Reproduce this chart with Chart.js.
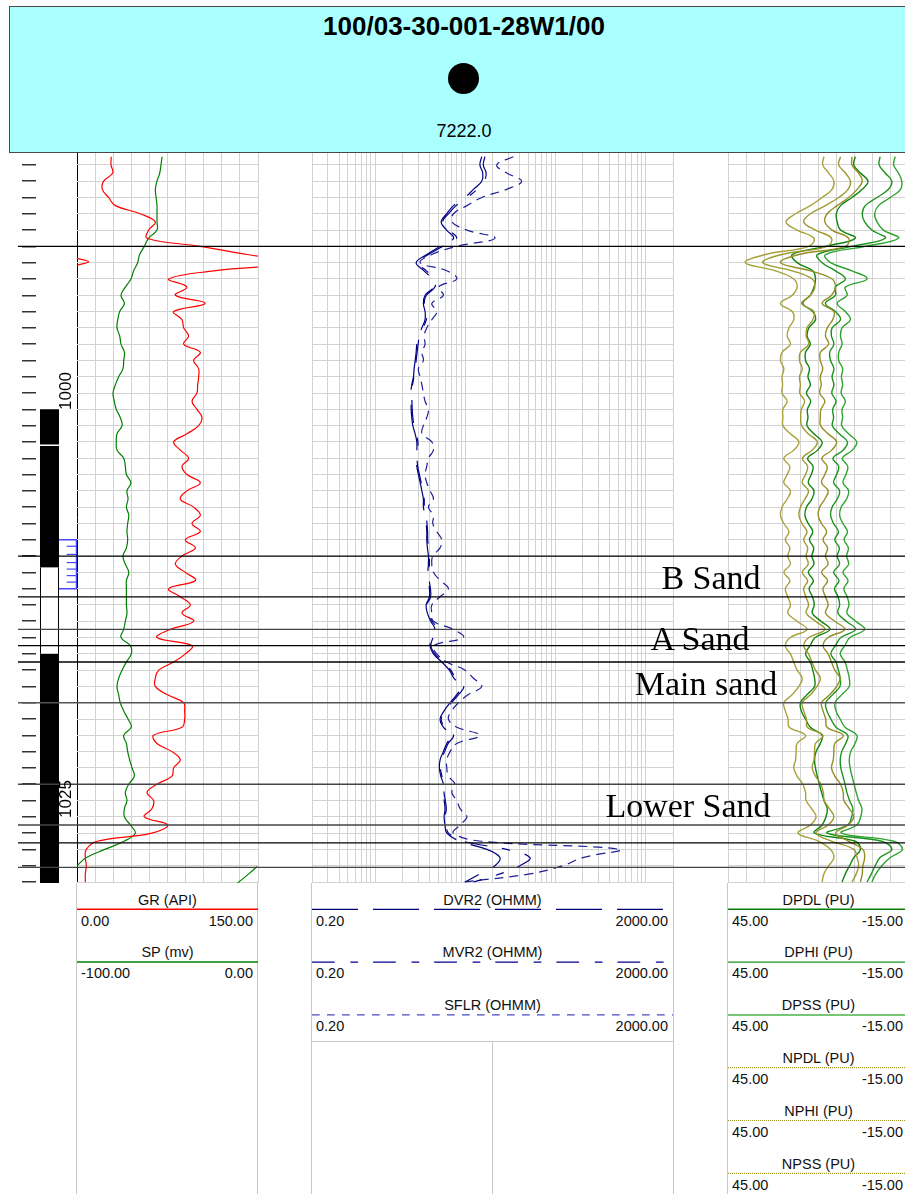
<!DOCTYPE html>
<html>
<head>
<meta charset="utf-8">
<title>100/03-30-001-28W1/00</title>
<script src="https://cdn.jsdelivr.net/npm/chart.js@4.4.1/dist/chart.umd.min.js"></script>
<style>
  html, body { margin: 0; padding: 0; background: #fff; overflow: hidden; }
  #page { position: relative; width: 905px; height: 1194px; overflow: hidden; font-family: "Liberation Sans", Arial, sans-serif; color: #111; }
  .abs { position: absolute; }
  .abs canvas { display: block; }
  #header { left: 9px; top: 6px; width: 908px; height: 145px; background: #aaffff; border: 1px solid #4a4a4a; z-index: 5; }
  #title { left: 0; right: 0; top: 4px; text-align: center; font-weight: bold; font-size: 26px; line-height: 30px; color: #000; }
  #dot { left: 438px; top: 56px; width: 31px; height: 31px; border-radius: 50%; background: #000; }
  #kb { left: 0; right: 0; top: 114px; text-align: center; font-size: 18px; line-height: 20px; color: #000; }
  .lg { font-size: 14.5px; line-height: 17px; white-space: nowrap; color: #111; }
  .zone { font-family: "Liberation Serif", serif; font-size: 34px; line-height: 36px; white-space: nowrap; transform: translate(-50%, -50%); z-index: 4; color: #000; }
  .dlab { font-size: 17px; line-height: 17px; white-space: nowrap; transform: translate(-50%, -50%) rotate(-90deg); z-index: 4; color: #000; }
</style>
</head>
<body>
<div id="page">
  <div id="header" class="abs">
    <div id="title" class="abs">100/03-30-001-28W1/00</div>
    <div id="dot" class="abs"></div>
    <div id="kb" class="abs">7222.0</div>
  </div>
  <div class="abs" style="left:22px;top:152px;width:55px;height:731px;z-index:1"><canvas id="cDepth"></canvas></div>
  <div class="abs" style="left:77px;top:152px;width:182px;height:731px;z-index:1"><canvas id="cGR"></canvas></div>
  <div class="abs" style="left:312px;top:152px;width:362px;height:731px;z-index:1"><canvas id="cRes"></canvas></div>
  <div class="abs" style="left:728px;top:152px;width:182px;height:731px;z-index:1"><canvas id="cPor"></canvas></div>
  <div class="abs" style="left:18px;top:152px;width:887px;height:731px;z-index:2"><canvas id="cTops"></canvas></div>
</div>
<script>
const depthTop = 985.21;
const depthBase = 1030.06;

// sample depths (m), one row per 5 m
const depth = [
  985.5, 986, 986.5, 987, 987.5, 988, 988.5, 989, 989.5, 990,
  990.5, 991, 991.5, 992, 992.5, 993, 993.5, 994, 994.5, 995,
  995.5, 996, 996.5, 997, 997.5, 998, 998.5, 999, 999.5, 1000,
  1000.5, 1001, 1001.5, 1002, 1002.5, 1003, 1003.5, 1004, 1004.5, 1005,
  1005.5, 1006, 1006.5, 1007, 1007.5, 1008, 1008.5, 1009, 1009.5, 1010,
  1010.5, 1011, 1011.5, 1012, 1012.5, 1013, 1013.5, 1014, 1014.5, 1015,
  1015.5, 1016, 1016.5, 1017, 1017.5, 1018, 1018.5, 1019, 1019.5, 1020,
  1020.5, 1021, 1021.5, 1022, 1022.5, 1023, 1023.5, 1024, 1024.5, 1025,
  1025.5, 1026, 1026.5, 1027, 1027.5, 1028, 1028.5, 1029, 1029.5, 1030
];

const grApi = [
  28.4, 28.2, 29.6, 22.1, 21.0, 26.2, 31.8, 52.5, 64.9, 59.4,
  58.0, 102.2, 140.9, 180, 113.5, 76.0, 91.1, 81.5, 106.3, 80.1,
  87.0, 88.4, 92.5, 88.4, 102.2, 96.7, 100.8, 100.8, 100.0, 99.4,
  95.3, 99.4, 103.6, 100.8, 91.1, 80.1, 85.6, 92.5, 87.0, 91.1,
  102.2, 91.1, 85.6, 96.7, 102.2, 95.3, 102.2, 89.8, 98.1, 87.0,
  81.5, 89.8, 98.1, 76.0, 85.6, 93.9, 87.0, 96.7, 77.3, 66.3,
  95.3, 89.8, 80.1, 67.7, 64.9, 64.9, 74.6, 88.4, 89.2, 89.2,
  87.0, 63.5, 66.3, 78.7, 85.6, 80.1, 78.7, 66.3, 58.0, 63.5,
  62.1, 55.8, 75.0, 62.0, 16.6, 7.7, 6.9, 7.7, 6.9, 6.9
];
// GR above 150 wraps back in from the left
const grWrapDepth = [991.74, 991.95, 992.15];
const grWrap = [0, 9.6, 0];

const spMv = [
  -53.0, -53.6, -54.3, -55.8, -56.7, -56.3, -55.8, -55.8, -55.8, -55.8,
  -60.4, -62.8, -65.4, -66.5, -68.7, -70.2, -73.3, -75.7, -73.8, -76.4,
  -77.5, -77.9, -76.4, -75.7, -73.8, -74.2, -74.6, -77.0, -78.8, -80.1,
  -79.4, -78.3, -76.1, -75.1, -77.9, -78.3, -77.9, -74.2, -73.3, -72.7,
  -70.2, -72.4, -71.8, -72.7, -71.4, -72.0, -72.4, -72.0, -72.7, -74.6,
  -73.3, -71.4, -72.7, -72.7, -72.7, -72.7, -72.4, -73.3, -74.2, -75.7,
  -70.5, -70.0, -72.7, -75.1, -77.0, -77.9, -77.0, -76.1, -74.2, -71.8,
  -70.0, -74.2, -72.7, -72.0, -70.9, -69.6, -68.3, -71.4, -73.3, -72.4,
  -73.8, -73.8, -70.5, -67.8, -74.0, -84.7, -94.8, -100, -105, -111
];
// SP below -100 wraps back in from the right
const spWrapDepth = [1029.05, 1029.5, 1030.06];
const spWrap = [-0.5, -5.1, -11.2];

const dvr2 = [
  15.2, 14.5, 15.6, 15.2, 12.3, 9.9, 7.4, 6.2, 5.4, 6.2,
  7.4, 5.25, 3.74, 2.85, 3.49, 4.25, 4.43, 3.58, 3.43, 3.58,
  3.58, 3.30, 3.02, 2.90, 2.85, 2.78, 2.71, 2.66, 2.55, 2.49,
  2.51, 2.51, 2.55, 2.62, 2.78, 2.90, 2.90, 2.85, 2.90, 3.02,
  3.16, 3.30, 3.43, 3.43, 3.58, 3.68, 3.74, 3.74, 3.80, 3.90,
  3.90, 3.84, 3.90, 4.00, 4.00, 3.68, 3.80, 4.14, 4.62, 4.25,
  4.07, 4.43, 5.48, 6.65, 7.50, 9.13, 8.04, 6.78, 5.82, 5.25,
  5.71, 7.08, 6.23, 5.71, 5.25, 5.16, 5.35, 5.71, 5.63, 5.82,
  5.96, 5.82, 5.96, 6.23, 8.74, 17.3, 24.2, 21.3, 14.5, 9.93
];
const mvr2 = [
  16.5, 15.8, 17.0, 16.2, 13.5, 10.5, 7.9, 6.5, 5.6, 6.6,
  8.0, 5.6, 3.9, 2.95, 3.7, 4.5, 4.6, 3.7, 3.5, 3.75,
  3.7, 3.4, 3.1, 3.0, 2.92, 2.85, 2.78, 2.7, 2.6, 2.55,
  2.56, 2.58, 2.62, 2.7, 2.85, 2.98, 2.96, 2.92, 2.97, 3.1,
  3.24, 3.38, 3.5, 3.52, 3.66, 3.76, 3.82, 3.83, 3.9, 3.98,
  4.0, 3.93, 3.98, 4.1, 4.12, 3.76, 3.9, 4.3, 4.9, 4.4,
  4.15, 4.6, 5.7, 6.9, 7.8, 9.6, 8.4, 7.0, 6.0, 5.4,
  5.9, 7.4, 6.45, 5.9, 5.4, 5.3, 5.5, 5.9, 5.8, 6.0,
  6.15, 6.0, 6.15, 6.5, 9.5, 28.7, 52.0, 40.3, 24.2, 12.3
];
const sflr = [
  34.0, 22.3, 28.7, 42.1, 28.7, 15.2, 10.4, 7.4, 7.1, 10.4,
  21.3, 8.0, 4.25, 3.16, 6.23, 8.04, 5.03, 5.71, 4.25, 4.83,
  4.25, 3.74, 3.49, 3.58, 3.30, 3.43, 3.02, 3.16, 3.30, 3.43,
  3.58, 3.90, 3.74, 3.43, 3.30, 4.25, 4.43, 3.90, 3.74, 3.58,
  3.74, 4.07, 4.43, 3.90, 4.43, 4.36, 4.83, 5.48, 5.25, 4.36,
  4.25, 4.43, 5.25, 6.49, 5.25, 4.25, 4.25, 4.43, 7.37, 9.51,
  4.43, 4.83, 6.23, 9.93, 12.3, 15.2, 10.8, 8.37, 7.08, 6.49,
  8.04, 14.5, 8.04, 6.78, 6.23, 6.23, 6.49, 7.7, 7.08, 8.04,
  8.74, 10.4, 8.74, 7.37, 15.0, 515, 200, 120, 52.0, 9.5
];

const dpdl = [
  2.8, 3.3, 1.1, -1.4, 0.5, 3.9, 7.7, 9.1, 8.8, 7.7,
  2.8, 12.7, 23.7, 22.1, 16.9, 16.0, 16.5, 17.7, 20.2, 16.9,
  16.0, 18.2, 18.8, 17.7, 19.3, 19.3, 18.0, 18.5, 17.7, 19.0,
  17.6, 18.7, 18.5, 18.8, 16.5, 13.8, 15.3, 18.6, 16.8, 17.4,
  18.4, 16.5, 17.2, 19.0, 19.5, 18.4, 16.9, 18.0, 16.6, 17.2,
  16.5, 18.4, 16.7, 18.1, 17.0, 16.4, 17.1, 14.2, 11.2, 16.1,
  17.8, 19.3, 17.7, 16.9, 16.3, 16.3, 18.8, 21.0, 20.7, 19.3,
  17.7, 13.8, 14.4, 15.8, 16.3, 16.0, 15.4, 14.7, 14.0, 13.2,
  12.1, 12.5, 13.8, 16.3, 2.8, 1.1, 3.3, 4.7, 6.1, 7.2
];
const dphi = [
  -5.4, -5.1, -7.1, -9.3, -8.2, -4.4, -0.5, 0.5, -0.3, -2.7,
  -7.1, 3.9, 15.4, 13.8, 9.4, 6.1, 9.4, 9.4, 12.7, 9.4,
  7.7, 10.5, 10.7, 9.9, 11.3, 11.0, 9.9, 10.5, 9.9, 10.6,
  9.2, 10.3, 10.0, 10.4, 8.1, 5.4, 6.8, 10.2, 8.3, 9.0,
  10.0, 8.0, 8.8, 10.5, 11.0, 10.0, 8.4, 9.6, 8.1, 8.8,
  8.0, 10.0, 8.2, 9.7, 8.5, 8.0, 8.6, 5.8, 2.7, 7.6,
  9.4, 10.9, 9.2, 8.4, 7.8, 7.9, 10.3, 12.6, 12.2, 10.9,
  9.2, 5.3, 6.0, 7.3, 7.8, 7.6, 6.9, 6.2, 5.6, 4.7,
  3.6, 4.0, 5.3, 12.1, -6.0, -9.3, -5.4, -3.8, -2.5, -1.1
];
const dpss = [
  -10.4, -9.9, -11.5, -12.6, -12.2, -8.8, -4.9, -3.6, -4.4, -6.5,
  -11.5, -0.5, 12.7, 11.0, 3.9, -1.1, 6.1, 5.5, 8.8, 6.1,
  4.4, 7.2, 7.7, 7.2, 8.3, 8.3, 7.0, 7.4, 7.0, 7.5,
  6.1, 7.2, 7.0, 7.3, 5.0, 2.3, 3.8, 7.1, 5.3, 5.9,
  6.9, 5.0, 5.7, 7.5, 8.0, 6.9, 5.4, 6.5, 5.1, 5.7,
  5.0, 6.9, 5.2, 6.6, 5.5, 4.9, 5.6, 2.7, -0.3, 4.6,
  6.3, 7.8, 6.2, 5.4, 4.8, 4.8, 7.3, 9.5, 9.2, 7.8,
  6.2, 2.3, 2.9, 4.3, 4.8, 4.5, 3.9, 3.2, 2.5, 1.7,
  0.6, 1.0, 2.3, 7.4, -10.0, -12.8, -8.8, -6.0, -4.0, -2.7
];
const npdl = [
  3.9, 3.9, 1.7, 0.5, 2.2, 5.0, 8.8, 12.1, 12.9, 10.5,
  5.0, 6.1, 21.5, 27.6, 17.7, 10.5, 9.4, 10.7, 13.8, 9.9,
  10.3, 12.1, 12.7, 11.6, 14.4, 14.4, 13.6, 14.4, 14.1, 14.6,
  12.9, 14.2, 14.4, 14.3, 11.8, 9.0, 10.6, 13.9, 12.1, 12.9,
  14.0, 11.8, 12.9, 14.6, 15.1, 14.0, 12.3, 13.5, 12.0, 12.7,
  11.8, 14.0, 12.0, 13.5, 12.7, 11.8, 12.7, 9.6, 6.3, 11.8,
  13.5, 11.8, 10.7, 9.6, 7.9, 9.0, 11.2, 14.0, 13.5, 12.6,
  12.2, 6.8, 9.6, 9.9, 10.1, 10.7, 9.6, 7.7, 6.8, 6.6,
  4.8, 3.3, 5.2, 9.3, 5.0, 0.3, -0.3, 0.3, 0.5, 1.1
];
const nphi = [
  7.7, 8.3, 6.1, 4.4, 5.2, 8.3, 12.7, 17.7, 19.9, 16.0,
  10.7, 12.1, 27.1, 33.5, 23.7, 17.1, 16.2, 17.7, 20.6, 16.5,
  16.9, 18.8, 19.1, 18.2, 21.0, 21.3, 20.4, 21.3, 21.0, 21.2,
  19.6, 20.7, 20.9, 20.6, 18.4, 15.4, 17.1, 20.3, 18.6, 19.3,
  20.4, 18.3, 19.5, 21.0, 21.5, 20.5, 18.8, 19.9, 18.6, 19.1,
  18.4, 20.4, 18.6, 19.9, 19.2, 18.3, 19.1, 16.0, 12.9, 18.2,
  19.9, 18.3, 17.2, 16.0, 14.4, 15.5, 17.6, 20.4, 19.9, 19.0,
  18.7, 13.5, 16.0, 16.3, 16.5, 17.1, 16.0, 14.2, 13.4, 13.1,
  11.4, 9.9, 11.8, 15.8, 10.5, 3.3, 2.2, 1.7, 2.5, 3.9
];
const npss = [
  13.2, 13.6, 11.6, 9.9, 10.5, 13.8, 17.7, 22.6, 25.8, 22.1,
  16.5, 18.2, 32.6, 39.3, 29.3, 23.2, 22.1, 23.7, 27.6, 23.7,
  23.2, 24.8, 25.4, 24.3, 27.1, 27.6, 26.5, 27.1, 26.9, 27.1,
  25.4, 26.8, 26.8, 26.8, 24.3, 21.5, 23.2, 26.5, 24.5, 25.4,
  26.5, 24.3, 25.4, 27.1, 27.6, 26.5, 24.8, 26.0, 24.5, 25.2,
  24.3, 26.5, 24.5, 26.0, 25.2, 24.3, 25.2, 22.1, 18.8, 24.3,
  26.0, 24.3, 23.2, 22.1, 20.4, 21.5, 23.7, 26.5, 26.0, 25.1,
  24.7, 19.3, 22.1, 22.4, 22.6, 23.2, 22.1, 20.2, 19.3, 19.1,
  17.3, 15.8, 17.7, 21.8, 14.9, 11.0, 9.9, 11.6, 13.2, 13.8
];

// formation tops and picked zones
const tops = [991.0, 1010.0, 1012.5, 1014.5, 1015.5, 1016.5, 1019.0, 1024.0, 1026.5, 1027.6, 1029.1];
const topColours = ['#000', '#000', '#000', '#444', '#000', '#000', '#555', '#444', '#444', '#000', '#444'];
const zoneNames = ['B Sand', 'A Sand', 'Main sand', 'Lower Sand'];
const zoneTop = [1010.0, 1014.5, 1016.5, 1024.0];
const zoneBase = [1012.5, 1015.5, 1019.0, 1026.5];
const zoneX = [711, 700, 706, 688];

// lithology column and perforations
const lithTop = [1001.0, 1003.25, 1010.7, 1016.0];
const lithBase = [1003.15, 1010.7, 1016.0, 1030.1];
const lithType = ['shale', 'shale', 'sand', 'shale'];
const perfTop = 1009.0;
const perfBase = 1012.0;
const perfShots = [1009.4, 1009.9, 1010.4, 1010.8, 1011.2, 1011.6];
const depthLabels = [1000, 1025];

const grTicks = [0, 15, 30, 45, 60, 75, 90, 105, 120, 135, 150];
const resTicks = [0.2, 0.3, 0.4, 0.5, 0.6, 0.7, 0.8, 0.9, 1, 2, 3, 4, 5, 6, 7, 8, 9,
  10, 20, 30, 40, 50, 60, 70, 80, 90, 100, 200, 300, 400, 500, 600, 700, 800, 900, 1000, 2000];
const porTicks = [-15, -9, -3, 3, 9, 15, 21, 27, 33, 39, 45];

const page = document.getElementById('page');
const gridGrey = '#d2d2d2';

function opts(scales, padRight) {
  return {
    responsive: true,
    maintainAspectRatio: false,
    animation: false,
    events: [],
    layout: { padding: { right: padRight || 0 }, autoPadding: false },
    plugins: { legend: { display: false }, tooltip: { enabled: false } },
    elements: { point: { radius: 0 }, line: { tension: 0.4, borderWidth: 1.2 } },
    scales: scales
  };
}

function integerDepthTicks(s) {
  s.ticks = [];
  for (let d = Math.ceil(s.min); d <= s.max; d++) s.ticks.push({ value: d });
}

function depthAxis() {
  return {
    type: 'linear', reverse: true, min: depthTop, max: depthBase,
    ticks: { display: false, autoSkip: false },
    grid: { drawTicks: false, color: gridGrey },
    border: { display: false },
    afterBuildTicks: integerDepthTicks
  };
}

function trackAxis(type, min, max, tickList, extra) {
  return Object.assign({
    type: type, min: min, max: max,
    ticks: { display: false, autoSkip: false },
    grid: { drawTicks: false, color: gridGrey },
    border: { display: false },
    afterBuildTicks: s => { s.ticks = tickList.map(v => ({ value: v })); }
  }, extra || {});
}

function curve(vals, colour, axis, extra) {
  return Object.assign({
    data: depth.map((d, i) => ({ x: vals[i], y: d })),
    borderColor: colour, xAxisID: axis, showLine: true, pointRadius: 0
  }, extra || {});
}

// depth track: tick marks, lithology column, perforations
// (Chart.js paints dataset 0 last, so the white sand fill goes first)
const lithX = 0.329;
const perfX0 = 0.561, perfX1 = 0.988, shotX = 0.87;
const sandSets = [];
const shaleSets = [];
lithTop.forEach((t, i) => {
  const seg = [{ x: lithX, y: t }, { x: lithX, y: lithBase[i] }];
  shaleSets.push({
    data: seg, showLine: true, pointRadius: 0, tension: 0,
    borderColor: '#000', borderWidth: 19, borderCapStyle: 'butt'
  });
  if (lithType[i] === 'sand') {
    sandSets.push({
      data: seg, showLine: true, pointRadius: 0, tension: 0,
      borderColor: '#fff', borderWidth: 17, borderCapStyle: 'butt'
    });
  }
});

const depthChart = new Chart(document.getElementById('cDepth'), {
  type: 'scatter',
  data: {
    datasets: [{
      data: perfShots.map(d => ({ x: shotX, y: d })),
      showLine: false, pointStyle: 'line', pointRadius: 5,
      pointBorderColor: '#4646ff', pointBorderWidth: 1.2
    }, {
      data: [{ x: perfX0, y: perfTop }, { x: perfX1, y: perfTop }, { x: perfX1, y: perfBase }, { x: perfX0, y: perfBase }],
      showLine: true, pointRadius: 0, tension: 0,
      borderColor: '#4646ff', borderWidth: 1.5
    }].concat(sandSets, shaleSets)
  },
  options: opts({
    x: { type: 'linear', min: 0, max: 1, display: false },
    y: {
      type: 'linear', reverse: true, min: depthTop, max: depthBase, position: 'left',
      ticks: { display: false, autoSkip: false },
      grid: { drawOnChartArea: false, drawTicks: true, tickLength: 14, color: '#333', lineWidth: 1.5 },
      border: { display: false },
      afterBuildTicks: integerDepthTicks
    }
  })
});

// GR / SP track
new Chart(document.getElementById('cGR'), {
  type: 'scatter',
  data: {
    datasets: [
      curve(grApi, '#ff0000', 'x'),
      { data: grWrapDepth.map((d, i) => ({ x: grWrap[i], y: d })), borderColor: '#ff0000', xAxisID: 'x', showLine: true, pointRadius: 0 },
      curve(spMv, '#008000', 'xsp'),
      { data: spWrapDepth.map((d, i) => ({ x: spWrap[i], y: d })), borderColor: '#008000', xAxisID: 'xsp', showLine: true, pointRadius: 0 }
    ]
  },
  options: opts({
    x: trackAxis('linear', 0, 150, grTicks, {
      grid: { drawTicks: false, color: c => c.index === 0 ? '#000' : gridGrey }
    }),
    xsp: { type: 'linear', min: -100, max: 0, display: false },
    y: depthAxis()
  }, 1)
});

// resistivity track
new Chart(document.getElementById('cRes'), {
  type: 'scatter',
  data: {
    datasets: [
      curve(dvr2, '#00007f', 'x', { borderDash: [46, 15] }),
      curve(mvr2, '#000090', 'x', { borderDash: [23, 15, 8, 15] }),
      curve(sflr, '#1f1f99', 'x', { borderDash: [9, 6] })
    ]
  },
  options: opts({
    x: trackAxis('logarithmic', 0.2, 2000, resTicks),
    y: depthAxis()
  }, 1)
});

// porosity track
new Chart(document.getElementById('cPor'), {
  type: 'scatter',
  data: {
    datasets: [
      curve(npss, '#a8a23c', 'x', { borderWidth: 1.4 }),
      curve(nphi, '#9e9a30', 'x', { borderWidth: 1.4 }),
      curve(npdl, '#948f24', 'x', { borderWidth: 1.4 }),
      curve(dpdl, '#0f850f', 'x', { borderWidth: 1.4 }),
      curve(dphi, '#1c931c', 'x', { borderWidth: 1.4 }),
      curve(dpss, '#2fa32f', 'x', { borderWidth: 1.4 })
    ]
  },
  options: opts({
    x: trackAxis('linear', -15, 45, porTicks, { reverse: true }),
    y: depthAxis()
  }, 1)
});

// formation tops across all tracks
const topsChart = new Chart(document.getElementById('cTops'), {
  type: 'scatter',
  data: {
    datasets: tops.map((t, i) => ({
      data: [{ x: 0, y: t }, { x: 1, y: t }],
      showLine: true, pointRadius: 0, tension: 0,
      borderColor: topColours[i], borderWidth: 1.3
    }))
  },
  options: opts({
    x: { type: 'linear', min: 0, max: 1, display: false },
    y: { type: 'linear', reverse: true, min: depthTop, max: depthBase, display: false }
  })
});

function addDiv(cls, text, style) {
  const el = document.createElement('div');
  el.className = 'abs ' + cls;
  el.textContent = text;
  Object.assign(el.style, style);
  page.appendChild(el);
  return el;
}

zoneNames.forEach((name, i) => {
  const y = topsChart.scales.y.getPixelForValue((zoneTop[i] + zoneBase[i]) / 2) + 152 + 1.5;
  addDiv('zone', name, { left: zoneX[i] + 'px', top: y + 'px' });
});

depthLabels.forEach(v => {
  const y = depthChart.scales.y.getPixelForValue(v) + 152 - 2;
  addDiv('dlab', String(v), { left: '65px', top: y + 'px' });
});

// curve headers below the tracks
const legendTracks = [
  { x0: 77, x1: 258, rows: [
    ['GR (API)', '0.00', '150.00', '#ff0000', '', 1.5],
    ['SP (mv)', '-100.00', '0.00', '#008000', '', 1.5]
  ] },
  { x0: 312, x1: 673, rows: [
    ['DVR2 (OHMM)', '0.20', '2000.00', '#00007f', '46 15', 1.3],
    ['MVR2 (OHMM)', '0.20', '2000.00', '#000090', '22.7 15.7 7.7 15', 1.3],
    ['SFLR (OHMM)', '0.20', '2000.00', '#4a4ac4', '7.7 7.3', 1.3]
  ] },
  { x0: 728, x1: 909, rows: [
    ['DPDL (PU)', '45.00', '-15.00', '#0a7d0a', '', 1.4],
    ['DPHI (PU)', '45.00', '-15.00', '#1c931c', '', 1.4],
    ['DPSS (PU)', '45.00', '-15.00', '#76c676', '', 2],
    ['NPDL (PU)', '45.00', '-15.00', '#a09a28', '1 1', 1.2],
    ['NPHI (PU)', '45.00', '-15.00', '#a09a28', '1 1', 1.2],
    ['NPSS (PU)', '45.00', '-15.00', '#a09a28', '1 1', 1.2]
  ] }
];

const svgNS = 'http://www.w3.org/2000/svg';
const svg = document.createElementNS(svgNS, 'svg');
svg.setAttribute('width', '905');
svg.setAttribute('height', '1194');
svg.style.position = 'absolute';
svg.style.left = '0';
svg.style.top = '0';
page.appendChild(svg);

function line(x1, y1, x2, y2, colour, width, dash) {
  const l = document.createElementNS(svgNS, 'line');
  l.setAttribute('x1', x1); l.setAttribute('y1', y1);
  l.setAttribute('x2', x2); l.setAttribute('y2', y2);
  l.setAttribute('stroke', colour);
  l.setAttribute('stroke-width', width);
  if (dash) l.setAttribute('stroke-dasharray', dash);
  svg.appendChild(l);
}

// frame lines of the header area
[76.5, 257.5, 311.5, 673.5, 727.5].forEach(x => line(x, 883, x, 1194, '#c8c8c8', 1));
line(312, 1041.5, 673, 1041.5, '#c8c8c8', 1);
line(492.5, 1041.5, 492.5, 1194, '#c8c8c8', 1);

legendTracks.forEach(tr => {
  tr.rows.forEach((r, i) => {
    const yName = 900 + 52.8 * i;
    const mid = (tr.x0 + Math.min(tr.x1, 909)) / 2;
    addDiv('lg', r[0], { left: (mid - 100) + 'px', width: '200px', textAlign: 'center', top: (yName - 8.5) + 'px' });
    line(tr.x0, yName + 9.3, tr.x1, yName + 9.3, r[3], r[5], r[4]);
    addDiv('lg', r[1], { left: (tr.x0 + 4) + 'px', top: (yName + 21 - 8.5) + 'px' });
    addDiv('lg', r[2], { right: (905 - Math.min(tr.x1 - 5, 903)) + 'px', top: (yName + 21 - 8.5) + 'px' });
  });
});
</script>
</body>
</html>
